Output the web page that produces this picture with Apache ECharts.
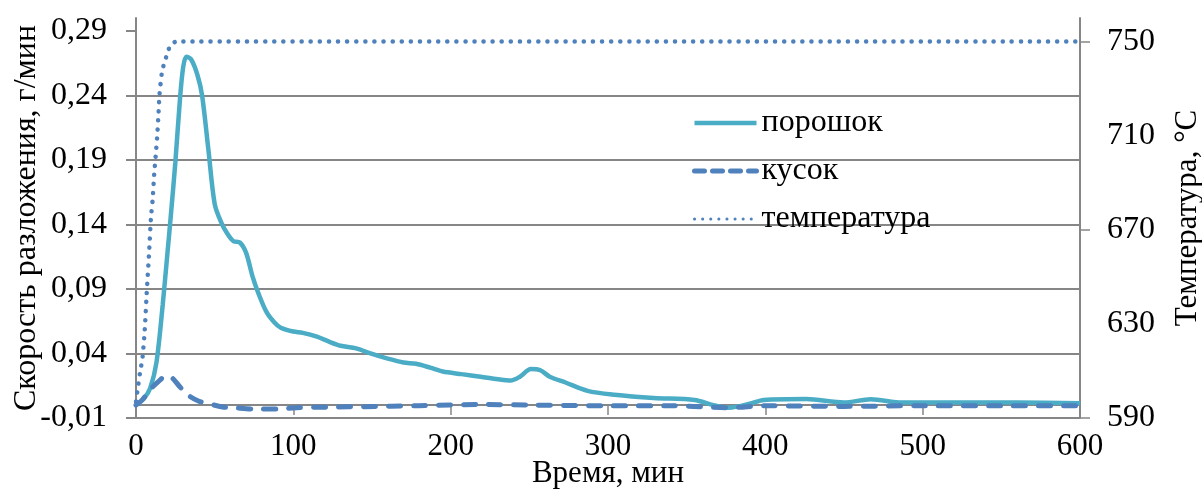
<!DOCTYPE html>
<html>
<head>
<meta charset="utf-8">
<script src="https://cdn.jsdelivr.net/npm/echarts@6/dist/echarts.min.js"></script>
<style>
    html, body { margin: 0; padding: 0; background: #fff; }
    #main { width: 1202px; height: 495px; }
</style>
</head>
<body>
<div id="main"></div>
<script>
    // порошок
    var powderTime = [0, 5, 9, 13, 17, 20, 22, 25, 28, 30, 32, 35, 39, 42, 46, 50, 54, 58, 62, 66, 70, 74, 78, 83, 88, 92,
        100, 106, 115, 123, 130, 140, 149, 160, 170, 178, 187, 195, 207, 219, 230, 238, 244, 251, 257, 263, 273, 287,
        304, 329, 355, 367, 377, 390, 399, 426, 450, 467, 487, 520, 560, 600];
    var powderRate = [0.000, 0.005, 0.013, 0.033, 0.078, 0.118, 0.145, 0.188, 0.238, 0.262, 0.270, 0.268, 0.256, 0.240,
        0.198, 0.156, 0.142, 0.133, 0.127, 0.126, 0.118, 0.100, 0.086, 0.072, 0.064, 0.060,
        0.057, 0.056, 0.053, 0.049, 0.046, 0.044, 0.040, 0.036, 0.033, 0.032, 0.029, 0.026, 0.024, 0.022, 0.020, 0.019,
        0.022, 0.028, 0.027, 0.022, 0.0175, 0.011, 0.008, 0.0055, 0.004, 0.000, -0.002, 0.001, 0.004, 0.0047, 0.002,
        0.0045, 0.002, 0.002, 0.002, 0.0015];

    // кусок
    var pieceTime = [0, 4, 9, 14, 19, 23, 28, 34, 40, 45, 55, 62, 75, 90, 102, 125, 145, 180, 219, 250, 300, 340, 377,
        400, 450, 500, 550, 600];
    var pieceRate = [0.000, 0.004, 0.012, 0.018, 0.0225, 0.021, 0.014, 0.007, 0.003, 0.0015, -0.0015, -0.002, -0.003,
        -0.003, -0.002, -0.0015, -0.0012, -0.0005, 0.0005, 0.000, -0.0005, -0.0005, -0.002, -0.0005, -0.001, -0.0005,
        -0.0005, -0.0005];

    // температура
    var tempTime = [0, 1, 2.5, 4.2, 5.7, 6.8, 8.3, 9.5, 10.6, 11.6, 12.7, 13.5, 14.2, 15, 16.5, 18, 20, 22, 26, 600];
    var tempValue = [597, 602, 609, 616, 629, 643, 660, 675, 683, 694, 703, 710, 718, 728, 737, 741, 745, 748.7, 750, 750];

    var rateTicks = [-0.01, 0.04, 0.09, 0.14, 0.19, 0.24, 0.29];
    var tempTicks = [590, 630, 670, 710, 750];
    var tempTickMarks = [590, 670, 750];
    var timeTicks = [0, 100, 200, 300, 400, 500, 600];

    function pairs(xs, ys) {
        var out = [];
        for (var i = 0; i < xs.length; i++) {
            out.push([xs[i], ys[i]]);
        }
        return out;
    }

    var font = "'Liberation Serif', 'Times New Roman', serif";
    var gray = '#868686';
    var aqua = '#4BACC6';
    var blue = '#4F81BD';
    var dashPiece = [12, 13];
    var dotTemp = [0.1, 9];

    var myChart = echarts.init(document.getElementById('main'));
    var option = {
        animation: false,
        backgroundColor: '#fff',
        textStyle: { fontFamily: font, color: '#000' },
        grid: { left: 136, right: 122, top: 18, bottom: 77, outerBoundsMode: 'none', containLabel: false },
        legend: {
            orient: 'vertical',
            left: 687,
            top: 102,
            itemWidth: 62,
            itemHeight: 14,
            itemGap: 16,
            itemStyle: { opacity: 0 },
            textStyle: { fontFamily: font, fontSize: 32, color: '#000', lineHeight: 31 },
            data: [
                { name: 'порошок', lineStyle: { width: 4.5, color: aqua } },
                { name: 'кусок', lineStyle: { width: 5, color: blue, type: [10, 8], cap: 'round' } },
                { name: 'температура', lineStyle: { width: 3, color: blue, type: [0.1, 8], cap: 'round' } }
            ]
        },
        xAxis: [{
            type: 'value',
            position: 'bottom',
            min: 0,
            max: 600,
            interval: 100,
            name: 'Время, мин',
            nameLocation: 'middle',
            nameGap: 40,
            nameMoveOverlap: false,
            nameTextStyle: { fontFamily: font, fontSize: 31, color: '#000' },
            axisLine: { show: false, onZero: false },
            axisTick: { show: false },
            splitLine: { show: false },
            axisLabel: {
                customValues: timeTicks,
                margin: 13,
                fontFamily: font,
                fontSize: 31,
                color: '#000'
            }
        }, {
            type: 'value',
            position: 'bottom',
            min: 0,
            max: 600,
            interval: 100,
            axisLine: { show: true, onZero: true, onZeroAxisIndex: 0, lineStyle: { color: gray, width: 2 } },
            axisTick: { show: true, length: 10, lineStyle: { color: gray, width: 1.5 } },
            axisLabel: { show: false },
            splitLine: { show: false }
        }],
        yAxis: [{
            type: 'value',
            position: 'left',
            min: -0.01,
            max: 0.30,
            interval: 0.05,
            name: 'Скорость разложения, г/мин',
            nameLocation: 'middle',
            nameGap: 93,
            nameMoveOverlap: false,
            nameTextStyle: { fontFamily: font, fontSize: 32, color: '#000' },
            axisLine: { show: true, onZero: false, lineStyle: { color: gray, width: 2 } },
            axisTick: { show: true, length: 10, customValues: rateTicks, lineStyle: { color: gray, width: 2 } },
            splitLine: { show: true, showMaxLine: false, lineStyle: { color: gray, width: 2 } },
            axisLabel: {
                customValues: rateTicks,
                margin: 29,
                fontFamily: font,
                fontSize: 32,
                color: '#000',
                formatter: function (v) {
                    return v.toFixed(2).replace('.', ',');
                }
            }
        }, {
            type: 'value',
            position: 'right',
            min: 590,
            max: 760,
            interval: 40,
            name: 'Температура, °С',
            nameLocation: 'middle',
            nameGap: 92,
            nameMoveOverlap: false,
            nameTextStyle: { fontFamily: font, fontSize: 31, color: '#000' },
            axisLine: { show: true, onZero: false, lineStyle: { color: gray, width: 2 } },
            axisTick: { show: true, length: 10, customValues: tempTickMarks, lineStyle: { color: gray, width: 1.5 } },
            splitLine: { show: false },
            axisLabel: {
                customValues: tempTicks,
                margin: 27,
                fontFamily: font,
                fontSize: 32,
                color: '#000'
            }
        }],
        series: [{
            name: 'порошок',
            type: 'line',
            xAxisIndex: 0,
            yAxisIndex: 0,
            showSymbol: false,
            symbol: 'none',
            smooth: 0.3,
            color: aqua,
            lineStyle: { color: aqua, width: 4.5 },
            data: pairs(powderTime, powderRate),
            z: 3
        }, {
            name: 'кусок',
            type: 'line',
            xAxisIndex: 0,
            yAxisIndex: 0,
            showSymbol: false,
            symbol: 'none',
            smooth: 0.3,
            color: blue,
            lineStyle: { color: blue, width: 5, type: dashPiece, cap: 'round' },
            data: pairs(pieceTime, pieceRate),
            z: 4
        }, {
            name: 'температура',
            type: 'line',
            xAxisIndex: 0,
            yAxisIndex: 1,
            showSymbol: false,
            symbol: 'none',
            smooth: 0.2,
            color: blue,
            lineStyle: { color: blue, width: 4.5, type: dotTemp, cap: 'round' },
            data: pairs(tempTime, tempValue),
            z: 5
        }]
    };
    myChart.setOption(option);
</script>
</body>
</html>
